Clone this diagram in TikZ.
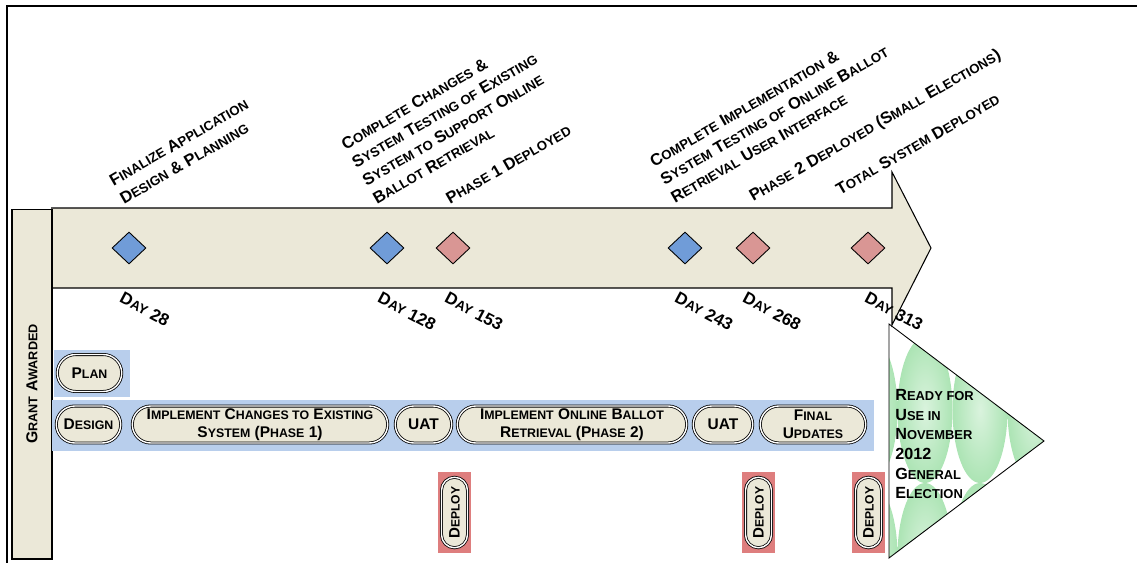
\documentclass[tikz,border=0pt]{standalone}
\usepackage{fontspec}
\setmainfont{Liberation Sans}
\usepackage{xfp}
\usetikzlibrary{shapes.geometric,shapes.misc}
\definecolor{beige}{RGB}{235,232,216}
\definecolor{bandblue}{RGB}{184,206,236}
\definecolor{msblue}{RGB}{112,156,216}
\definecolor{mspink}{RGB}{217,150,148}
\definecolor{deployred}{RGB}{222,126,126}
\definecolor{readygreen}{RGB}{172,228,180}
\makeatletter
\newcommand\sk[1]{{\fontsize{\fpeval{0.8*\f@size}}{\f@baselineskip}\selectfont #1}}
\makeatother

\begin{document}
\begin{tikzpicture}[x=0.02cm, y=-0.02cm,
  ms/.style={diamond, draw, line width=0.5pt, inner sep=0pt, minimum width=0.68cm, minimum height=0.64cm},
  lbl/.style={anchor=south west, rotate=30, inner sep=0pt, align=left, font=\fontsize{9.4}{11.9}\selectfont\bfseries},
  daylbl/.style={anchor=north west, rotate=-28, inner sep=0pt, font=\fontsize{9.6}{11}\selectfont\bfseries},
  band/.style={fill=bandblue, inner sep=0pt},
  phase/.style={rounded rectangle, draw, line width=0.45pt, double=white, double distance=0.8pt, fill=beige, inner sep=1pt, minimum height=0.74cm, align=center, font=\fontsize{8.8}{10.2}\selectfont\bfseries},
  deploybg/.style={fill=deployred, inner sep=0pt, minimum width=0.66cm, minimum height=1.62cm},
  deploy/.style={rounded rectangle, draw, line width=0.45pt, double=white, double distance=0.8pt, fill=beige, rotate=90, inner sep=1pt, minimum width=1.48cm, minimum height=0.52cm, font=\fontsize{8.6}{10}\selectfont\bfseries}]
\useasboundingbox (0, 0) rectangle (1137, 562);
\draw [line width=1.2pt] (7, 570) -- (7, 6) -- (1145, 6);

\filldraw [fill=beige, line width=0.6pt] (51, 208) -- (892, 208) -- (892, 172) -- (931, 248) -- (892, 325) -- (892, 288) -- (51, 288);
\node [draw, fill=beige, line width=0.6pt, rotate=90, minimum width=7cm, minimum height=0.8cm, inner sep=0pt, font=\fontsize{9}{11}\selectfont\bfseries] (grant) at (32, 384) {G\sk{RANT} A\sk{WARDED}};

\node [ms, fill=msblue] (d28) at (129, 248) {};
\node [ms, fill=msblue] (d128) at (387, 248) {};
\node [ms, fill=mspink] (d153) at (453, 248) {};
\node [ms, fill=msblue] (d243) at (685, 248) {};
\node [ms, fill=mspink] (d268) at (753, 248) {};
\node [ms, fill=mspink] (d313) at (868, 248) {};

\node [lbl] (t28) at (124, 205) {F\sk{INALIZE} A\sk{PPLICATION}\\D\sk{ESIGN} \& P\sk{LANNING}};
\node [lbl] (t128) at (377, 205) {C\sk{OMPLETE} C\sk{HANGES} \&\\S\sk{YSTEM} T\sk{ESTING OF} E\sk{XISTING}\\S\sk{YSTEM TO} S\sk{UPPORT} O\sk{NLINE}\\B\sk{ALLOT} R\sk{ETRIEVAL}};
\node [lbl] (t153) at (450, 205) {P\sk{HASE} 1 D\sk{EPLOYED}};
\node [lbl] (t243) at (675, 204) {C\sk{OMPLETE} I\sk{MPLEMENTATION} \&\\S\sk{YSTEM} T\sk{ESTING OF} O\sk{NLINE} B\sk{ALLOT}\\R\sk{ETRIEVAL} U\sk{SER} I\sk{NTERFACE}};
\node [lbl] (t268) at (755, 205) {P\sk{HASE} 2 D\sk{EPLOYED} (S\sk{MALL} E\sk{LECTIONS})};
\node [lbl] (t313) at (840, 196) {T\sk{OTAL} S\sk{YSTEM} D\sk{EPLOYED}};

\node [daylbl] (day28) at (124, 291) {D\sk{AY} 28};
\node [daylbl] (day128) at (382, 291) {D\sk{AY} 128};
\node [daylbl] (day153) at (449, 291) {D\sk{AY} 153};
\node [daylbl] (day243) at (679, 291) {D\sk{AY} 243};
\node [daylbl] (day268) at (747, 291) {D\sk{AY} 268};
\node [daylbl] (day313) at (869, 291) {D\sk{AY} 313};

\node [band, minimum width=1.52cm, minimum height=0.94cm] (planband) at (92, 373.5) {};
\node [band, minimum width=16.44cm, minimum height=1.02cm] (workband) at (463, 425.5) {};

\node [phase, minimum width=1.36cm] (plan) at (89.5, 373) {P\sk{LAN}};
\node [phase, minimum width=1.36cm] (design) at (88.5, 424.5) {D\sk{ESIGN}};
\node [phase, minimum width=5.18cm] (implA) at (260, 424.5) {I\sk{MPLEMENT} C\sk{HANGES TO} E\sk{XISTING}\\S\sk{YSTEM} (P\sk{HASE} 1)};
\node [phase, minimum width=1.2cm] (uatA) at (423.5, 424.5) {UAT};
\node [phase, minimum width=4.66cm] (implB) at (572, 424.5) {I\sk{MPLEMENT} O\sk{NLINE} B\sk{ALLOT}\\R\sk{ETRIEVAL} (P\sk{HASE} 2)};
\node [phase, minimum width=1.26cm] (uatB) at (723, 424.5) {UAT};
\node [phase, minimum width=2.18cm] (final) at (813, 424.5) {F\sk{INAL}\\U\sk{PDATES}};

\node [deploybg] (depAbg) at (454.5, 512.5) {};
\node [deploybg] (depBbg) at (758.5, 512.5) {};
\node [deploybg] (depCbg) at (868.5, 512.5) {};
\node [deploy] (depA) at (depAbg) {D\sk{EPLOY}};
\node [deploy] (depB) at (depBbg) {D\sk{EPLOY}};
\node [deploy] (depC) at (depCbg) {D\sk{EPLOY}};

\begin{scope}
\clip (889, 324) -- (1044, 441) -- (889, 558) -- cycle;
\foreach \cx in {870, 925, 980, 1035}
  \foreach \cy in {264, 410, 556}
    \shade [inner color=readygreen!45!white, outer color=readygreen] (\cx, \cy) ellipse [x radius=0.55cm, y radius=1.46cm];
\end{scope}
\draw [line width=0.5pt] (889, 324) -- (1044, 441) -- (889, 558) -- cycle;
\node [anchor=north west, align=left, inner sep=0pt, font=\fontsize{9.2}{11.2}\selectfont\bfseries] (ready) at (895, 389) {R\sk{EADY FOR}\\U\sk{SE IN}\\N\sk{OVEMBER}\\2012\\G\sk{ENERAL}\\E\sk{LECTION}};
\end{tikzpicture}
\end{document}
